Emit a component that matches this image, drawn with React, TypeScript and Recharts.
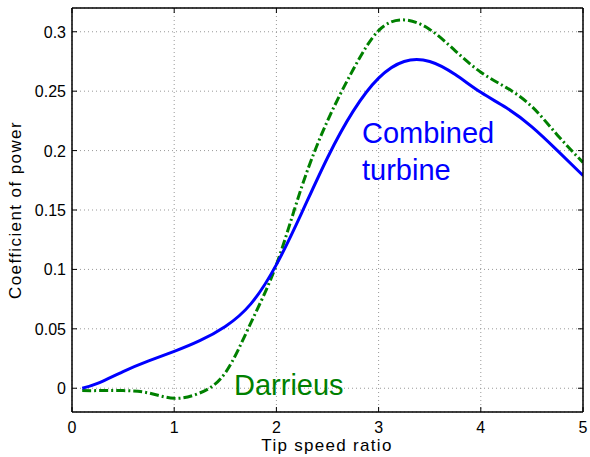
import React from 'react';
import { LineChart, Line, XAxis, YAxis, CartesianGrid } from 'recharts';

// tip speed ratio samples and the power coefficient of each rotor
const tsr = [0.1, 0.25, 0.5, 0.75, 1, 1.25, 1.5, 1.75, 2, 2.25, 2.5, 2.75, 3, 3.25, 3.5, 3.75, 4, 4.25, 4.5, 4.75, 5];
const combined = [0, 0.004, 0.014, 0.023, 0.031, 0.04, 0.052, 0.071, 0.104, 0.148, 0.194, 0.233, 0.261, 0.275, 0.275, 0.264, 0.249, 0.236, 0.22, 0.2, 0.179];
const darrieus = [-0.002, -0.002, -0.002, -0.004, -0.0085, -0.004, 0.013, 0.055, 0.104, 0.17, 0.225, 0.268, 0.301, 0.31, 0.302, 0.284, 0.266, 0.253, 0.237, 0.213, 0.19];

const xTicks = [0, 1, 2, 3, 4, 5];
const yTicks = [0, 0.05, 0.1, 0.15, 0.2, 0.25, 0.3];

const data = tsr.map((x, i) => ({ x, combined: combined[i], darrieus: darrieus[i] }));

const FONT = '"Liberation Sans", Arial, Helvetica, sans-serif';
const TICK_LEN = 5;

// inward tick marks, MATLAB style box
const BottomTick = ({ x, y, payload }: any) => (
  <g>
    <line x1={x} y1={y} x2={x} y2={y - TICK_LEN} stroke="#000" strokeWidth={1} />
    <text x={x} y={y + 21} textAnchor="middle" fontSize={16} fontFamily={FONT} fill="#000">
      {payload.value}
    </text>
  </g>
);

const TopTick = ({ x, y }: any) => (
  <line x1={x} y1={y} x2={x} y2={y + TICK_LEN} stroke="#000" strokeWidth={1} />
);

const LeftTick = ({ x, y, payload }: any) => (
  <g>
    <line x1={x} y1={y} x2={x + TICK_LEN} y2={y} stroke="#000" strokeWidth={1} />
    <text x={x - 6} y={y + 6} textAnchor="end" fontSize={16} fontFamily={FONT} fill="#000">
      {payload.value}
    </text>
  </g>
);

const RightTick = ({ x, y }: any) => (
  <line x1={x} y1={y} x2={x - TICK_LEN} y2={y} stroke="#000" strokeWidth={1} />
);

export default function App() {
  return (
    <div style={{ position: 'absolute', left: 0, top: 0, width: 590, height: 457, background: '#fff' }}>
      <LineChart width={590} height={457} data={data} margin={{ top: 7, right: 6, left: 0, bottom: 0 }}>
        <CartesianGrid stroke="#999" strokeDasharray="1 3" />
        <XAxis
          dataKey="x"
          type="number"
          domain={[0, 5]}
          ticks={xTicks}
          allowDataOverflow
          height={45}
          tickSize={0}
          tickMargin={0}
          tick={<BottomTick />}
          axisLine={{ stroke: '#000', strokeWidth: 1.5 }}
          tickLine={false}
        />
        <XAxis
          xAxisId="top"
          orientation="top"
          dataKey="x"
          type="number"
          domain={[0, 5]}
          ticks={xTicks}
          allowDataOverflow
          height={1}
          tickSize={0}
          tickMargin={0}
          tick={<TopTick />}
          axisLine={{ stroke: '#000', strokeWidth: 1.5 }}
          tickLine={false}
        />
        <YAxis
          type="number"
          domain={[-0.02, 0.32]}
          ticks={yTicks}
          allowDataOverflow
          width={72}
          tickSize={0}
          tickMargin={0}
          tick={<LeftTick />}
          axisLine={{ stroke: '#000', strokeWidth: 1.5 }}
          tickLine={false}
        />
        <YAxis
          yAxisId="right"
          orientation="right"
          type="number"
          domain={[-0.02, 0.32]}
          ticks={yTicks}
          allowDataOverflow
          width={1}
          tickSize={0}
          tickMargin={0}
          tick={<RightTick />}
          axisLine={{ stroke: '#000', strokeWidth: 1.5 }}
          tickLine={false}
        />
        <Line
          type="natural"
          dataKey="darrieus"
          stroke="#008000"
          strokeWidth={3}
          strokeDasharray="9 3 2 3"
          dot={false}
          isAnimationActive={false}
        />
        <Line
          type="natural"
          dataKey="combined"
          stroke="#0000ff"
          strokeWidth={3}
          dot={false}
          isAnimationActive={false}
        />
      </LineChart>
      <svg
        width={590}
        height={457}
        style={{ position: 'absolute', left: 0, top: 0, pointerEvents: 'none' }}
        fontFamily={FONT}
      >
        <text x={327} y={451} textAnchor="middle" fontSize={17} letterSpacing={1.3} fill="#000">
          Tip speed ratio
        </text>
        <text
          x={0}
          y={0}
          transform="translate(21,210) rotate(-90)"
          textAnchor="middle"
          fontSize={17}
          letterSpacing={1.4}
          fill="#000"
        >
          Coefficient of power
        </text>
        <text x={362} y={143} fontSize={29} fill="#0000ff">Combined</text>
        <text x={362} y={180} fontSize={29} fill="#0000ff">turbine</text>
        <text x={234} y={395} fontSize={29} fill="#008000">Darrieus</text>
      </svg>
    </div>
  );
}
